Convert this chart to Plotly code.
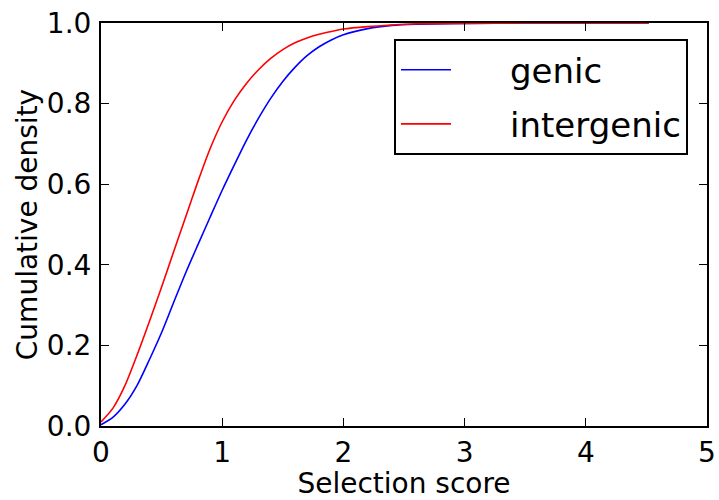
import plotly.graph_objects as go

score = [0, 0.1, 0.2, 0.3, 0.4, 0.5, 0.6, 0.7, 0.8, 0.9, 1.0, 1.1, 1.2, 1.3, 1.4,
         1.5, 1.6, 1.7, 1.8, 1.9, 2.0, 2.2, 2.4, 2.6, 3.0, 3.5, 4.0, 4.52]
genic = [0.003, 0.022, 0.055, 0.102, 0.165, 0.232, 0.307, 0.381, 0.450, 0.518, 0.585,
         0.648, 0.709, 0.764, 0.813, 0.855, 0.890, 0.919, 0.941, 0.958, 0.971, 0.986,
         0.994, 0.997, 0.999, 1.0, 1.0, 1.0]
intergenic = [0.010, 0.045, 0.102, 0.178, 0.260, 0.345, 0.433, 0.520, 0.607, 0.688, 0.755,
              0.808, 0.850, 0.884, 0.912, 0.934, 0.951, 0.963, 0.972, 0.979, 0.985, 0.991,
              0.995, 0.998, 0.999, 1.0, 1.0, 1.0]

x_ticks = [0, 1, 2, 3, 4, 5]
y_ticks = [0.0, 0.2, 0.4, 0.6, 0.8, 1.0]
y_tick_labels = ["0.0", "0.2", "0.4", "0.6", "0.8", "1.0"]

FONT = "DejaVu Sans"
PAD = "\u00a0" * 5

fig = go.Figure()
fig.add_trace(go.Scatter(x=score, y=genic, mode="lines", name=PAD + "genic",
                         line=dict(color="#0000ff", width=1.6, shape="spline", smoothing=0.8),
                         legendgroup="a"))
fig.add_trace(go.Scatter(x=score, y=intergenic, mode="lines", name=PAD + "intergenic",
                         line=dict(color="#ff0000", width=1.6, shape="spline", smoothing=0.8),
                         legendgroup="b"))

axis_common = dict(
    showgrid=False, zeroline=False, showline=True, linecolor="black", linewidth=2,
    mirror="ticks", ticks="inside", ticklen=8, tickwidth=1, tickcolor="black",
    tickfont=dict(family=FONT, size=28, color="black"), automargin=False,
)

fig.update_layout(
    width=719, height=500,
    margin=dict(l=101, r=12, t=23, b=74),
    paper_bgcolor="white", plot_bgcolor="white",
    font=dict(family=FONT, color="black"),
    xaxis=dict(range=[0, 5], tickvals=x_ticks, ticktext=[str(t) for t in x_ticks],
               title=dict(text="Selection score", font=dict(family=FONT, size=28), standoff=12),
               **axis_common),
    yaxis=dict(range=[0, 1.0], tickvals=y_ticks, ticktext=y_tick_labels,
               title=dict(text="Cumulative density", font=dict(family=FONT, size=28), standoff=1),
               ticklabelstandoff=2,
               **axis_common),
    legend=dict(x=0.4835, y=0.96, xanchor="left", yanchor="top",
                bordercolor="black", borderwidth=2, bgcolor="white",
                font=dict(family=FONT, size=34, color="black"),
                tracegroupgap=7, itemwidth=50),
    showlegend=True,
)

fig.write_html("out.html")
